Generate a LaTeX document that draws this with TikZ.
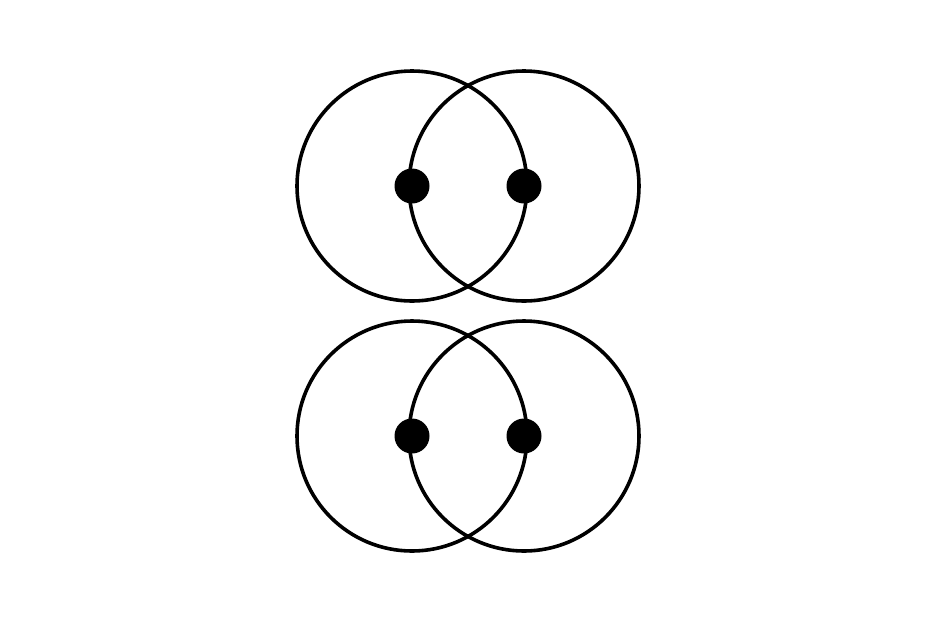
\documentclass[tikz,border=0pt]{standalone}
\usepackage{tikz}

\begin{document}
\begin{tikzpicture}[x=1pt, y=-1pt]

  \newcommand\R{115};
  \newcommand\D{112};

  \useasboundingbox (0, 0) rectangle (938, 625);

  \tikzset{ring/.style={line width=3.6pt}, dot/.style={circle, fill=black, inner sep=0pt, minimum size=35pt}}

  \foreach \yy/\nm in {186/top, 436/bot} {
    \draw[ring] (412, \yy) circle (\R);
    \draw[ring] (412+\D, \yy) circle (\R);
    \node[dot] (\nm L) at (412, \yy) {};
    \node[dot] (\nm R) at (412+\D, \yy) {};
  }

\end{tikzpicture}
\end{document}
